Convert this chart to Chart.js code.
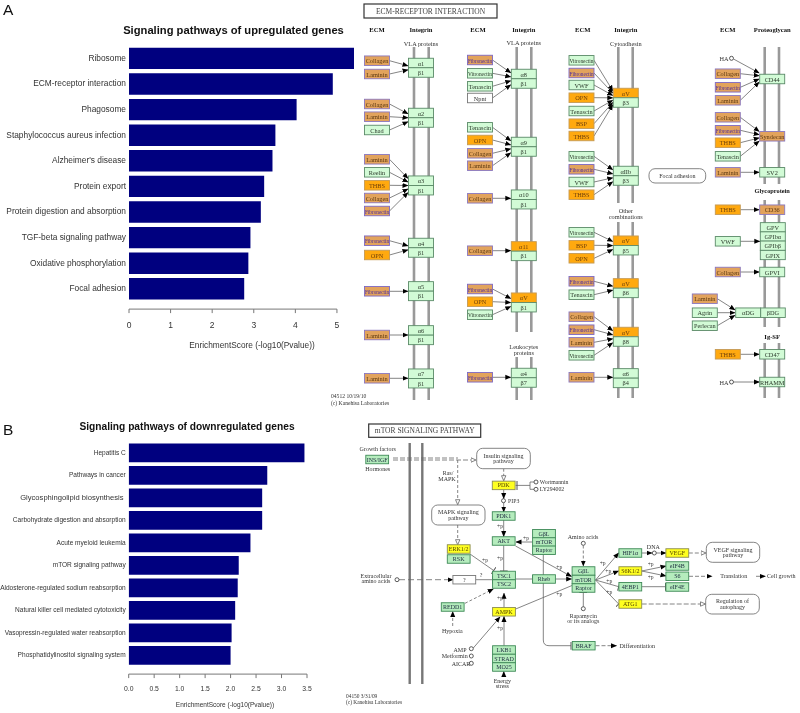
<!DOCTYPE html>
<html>
<head>
<meta charset="utf-8">
<title>Signaling pathways</title>
<script src="https://cdn.jsdelivr.net/npm/chart.js@4"></script>
<style>
  html, body { margin: 0; padding: 0; background: #fff; }
  #page { position: relative; width: 800px; height: 713px; overflow: hidden; filter: blur(0.35px); }
  #page canvas, #page svg { position: absolute; }
  #upChart { left: 0; top: 0; }
  #downChart { left: 0; top: 410px; }
  #pathways { left: 0; top: 0; }
  .letter { position: absolute; left: 3px; font: 15.5px "Liberation Sans", sans-serif; color: #111; }
</style>
</head>
<body>
<div id="page">
  <canvas id="upChart" width="360" height="360"></canvas>
  <canvas id="downChart" width="340" height="303"></canvas>
  <svg id="pathways" width="800" height="713" viewBox="0 0 800 713"></svg>
  <div class="letter" style="top:1px">A</div>
  <div class="letter" style="top:421px">B</div>
</div>

<script>
// chart data
const upLabels = ["Ribosome", "ECM-receptor interaction", "Phagosome", "Staphylococcus aureus infection",
  "Alzheimer's disease", "Protein export", "Protein digestion and absorption", "TGF-beta signaling pathway",
  "Oxidative phosphorylation", "Focal adhesion"]
const upValues = [5.41, 4.90, 4.03, 3.52, 3.45, 3.25, 3.17, 2.92, 2.87, 2.77]

const downLabels = ["Hepatitis C", "Pathways in cancer", "Glycosphingolipid biosynthesis ", "Carbohydrate digestion and absorption",
  "Acute myeloid leukemia", "mTOR signaling pathway", "Aldosterone-regulated sodium reabsorption",
  "Natural killer cell mediated cytotoxicity", "Vasopressin-regulated water reabsorption", "Phosphatidylinositol signaling system"]
const downValues = [3.45, 2.72, 2.62, 2.62, 2.39, 2.16, 2.14, 2.09, 2.02, 2.00]

const axisTitle = "EnrichmentScore (-log10(Pvalue))"

// R style axis: line only between the first and last tick, set below the bars.
// the titles sit off centre in the original so they are placed here too
const rAxis = {
  id: "rAxis",
  afterDraw(chart, args, opts) {
    const x = chart.scales.x, ctx = chart.ctx
    const y = chart.chartArea.bottom + opts.offset
    const px = x.ticks.map(t => x.getPixelForValue(t.value))
    ctx.save()
    ctx.strokeStyle = "#777"
    ctx.lineWidth = 1
    ctx.beginPath()
    ctx.moveTo(px[0], y)
    ctx.lineTo(px[px.length - 1], y)
    px.forEach(p => { ctx.moveTo(p, y); ctx.lineTo(p, y + opts.tickLen) })
    ctx.stroke()
    ctx.textAlign = "center"
    ctx.textBaseline = "middle"
    ctx.fillStyle = "#333"
    ctx.font = opts.font
    ctx.fillText(axisTitle, opts.titleX, opts.titleY)
    ctx.fillStyle = "#111"
    ctx.font = opts.headFont
    ctx.fillText(opts.head, opts.headX, opts.headY)
    ctx.restore()
  }
}

function renderBarChart(id, labels, values, o) {
  new Chart(document.getElementById(id).getContext("2d"), {
    type: "bar",
    plugins: [rAxis],
    data: {
      labels: labels,
      datasets: [{ data: values, backgroundColor: "#00007f", categoryPercentage: 1, barPercentage: 0.835 }]
    },
    options: {
      indexAxis: "y",
      responsive: false,
      animation: false,
      layout: { padding: { top: o.top, right: o.padRight } },
      plugins: {
        legend: { display: false },
        rAxis: o.axis
      },
      scales: {
        x: {
          min: 0, max: o.max,
          grid: { display: false },
          border: { display: false },
          afterFit(s) { s.height = o.axisHeight },
          ticks: {
            stepSize: o.step, includeBounds: false, maxRotation: 0, autoSkip: false,
            padding: o.tickPad, color: "#333",
            font: { family: "Liberation Sans", size: o.tickSize },
            callback: v => v.toFixed(o.decimals)
          }
        },
        y: {
          grid: { display: false, drawTicks: false },
          border: { display: false },
          afterFit(s) { s.width = o.left },
          ticks: {
            padding: 3, color: "#333", autoSkip: false,
            font: ctx => ({ family: "Liberation Sans", size: o.labelSize(ctx.index) })
          }
        }
      }
    }
  })
}

renderBarChart("upChart", upLabels, upValues, {
  top: 45.6, padRight: 6, left: 129, axisHeight: 58.4, max: 5.41, step: 1, decimals: 0,
  tickPad: 11, tickSize: 8.5, labelSize: () => 8.35,
  axis: { offset: 7.5, tickLen: 4, font: "8.3px 'Liberation Sans'", titleX: 252, titleY: 345.5,
    head: "Signaling pathways of upregulated genes", headFont: "bold 11.2px 'Liberation Sans'", headX: 233.5, headY: 31 }
})

renderBarChart("downChart", downLabels, downValues, {
  top: 31.6, padRight: 33, left: 128.7, axisHeight: 46.4, max: 3.5, step: 0.5, decimals: 1,
  tickPad: 10, tickSize: 6.8, labelSize: i => (i === 2 ? 7.6 : 6.55),
  axis: { offset: 7.5, tickLen: 4, font: "6.5px 'Liberation Sans'", titleX: 225, titleY: 295,
    head: "Signaling pathways of downregulated genes", headFont: "bold 10.2px 'Liberation Sans'", headX: 187, headY: 17.3 }
})

// ---- the two KEGG maps are illustrations, plain svg ----
const svg = document.getElementById("pathways")
const SERIF = "'Liberation Serif', serif"

function el(tag, attrs, text) {
  const n = document.createElementNS("http://www.w3.org/2000/svg", tag)
  for (const k in attrs) n.setAttribute(k, attrs[k])
  if (text !== undefined) n.textContent = text
  svg.appendChild(n)
  return n
}

const defs = el("defs", {})
function marker(id, w, h, refX, build) {
  const m = document.createElementNS(svg.namespaceURI, "marker")
  m.setAttribute("id", id); m.setAttribute("markerUnits", "userSpaceOnUse")
  m.setAttribute("markerWidth", w); m.setAttribute("markerHeight", h)
  m.setAttribute("refX", refX); m.setAttribute("refY", h / 2); m.setAttribute("orient", "auto")
  m.innerHTML = build
  defs.appendChild(m)
}
marker("solid", 6, 6, 5.5, '<path d="M0 0.5L6 3L0 5.5Z" fill="#000"/>')
marker("open", 6, 6, 5.5, '<path d="M0.5 0.8L5.5 3L0.5 5.2Z" fill="#fff" stroke="#666" stroke-width="0.8"/>')
marker("bar", 2, 8, 1, '<path d="M1 0V8" stroke="#555" stroke-width="1"/>')

function label(x, y, s, size, opt) {
  opt = opt || {}
  const a = { x: x, y: y, "font-family": SERIF, "font-size": size, fill: opt.fill || "#333",
    "text-anchor": opt.anchor || "middle", "dominant-baseline": "central" }
  if (opt.bold) a["font-weight"] = "bold"
  if (opt.fit) { a.textLength = opt.fit; a.lengthAdjust = "spacingAndGlyphs" }
  el("text", a, s)
}

function link(x1, y1, x2, y2, end, dash) {
  const a = { x1: x1, y1: y1, x2: x2, y2: y2, stroke: "#666", "stroke-width": 0.8 }
  if (end) a["marker-end"] = "url(#" + end + ")"
  if (dash) a["stroke-dasharray"] = dash
  el("line", a)
}

const COLORS = {
  green: ["#d2fbd6", "#5b8a68", "#2c3a2c"],
  deep: ["#b5ecbd", "#3f8a58", "#234"],
  yellow: ["#ffff20", "#8c8c50", "#554400"],
  orange: ["#ffa90f", "#c59a55", "#70400a"],
  dull: ["#e2a35c", "#8a78c0", "#5c3810"],
  fibro: ["#e2a35c", "#7d68c4", "#4a2aa0"],
  white: ["#fff", "#777", "#333"]
}

function box(cx, cy, w, h, s, kind, size) {
  const c = COLORS[kind]
  el("rect", { x: cx - w / 2, y: cy - h / 2, width: w, height: h, fill: c[0], stroke: c[1], "stroke-width": 0.9 })
  if (s) label(cx, cy, s, size || 6.3, { fill: c[2], fit: s.length > 8 ? w - 1 : 0 })
}

function pill(x1, y1, x2, y2, lines) {
  el("rect", { x: x1, y: y1, width: x2 - x1, height: y2 - y1, rx: 6, fill: "#fff", stroke: "#666", "stroke-width": 0.8 })
  const mid = (y1 + y2) / 2
  lines.forEach((s, i) => label((x1 + x2) / 2, mid + (i - (lines.length - 1) / 2) * 5.6, s, 6))
}

function node(x, y) { el("circle", { cx: x, cy: y, r: 2, fill: "#fff", stroke: "#333", "stroke-width": 0.8 }) }

function titleBox(x1, y1, x2, y2, s) {
  el("rect", { x: x1, y: y1, width: x2 - x1, height: y2 - y1, fill: "#fff", stroke: "#333", "stroke-width": 1.2 })
  label((x1 + x2) / 2, (y1 + y2) / 2, s, 7.5, { fill: "#444" })
}

function membrane(xs, spans, color, width) {
  xs.forEach(x => spans.forEach(s => el("line", { x1: x, y1: s[0], x2: x, y2: s[1], stroke: color, "stroke-width": width })))
}

// ---- ECM-receptor interaction ----
function ligandKind(name) {
  if (name == "Fibronectin") return "fibro"
  if (name == "Collagen" || name == "Laminin") return "dull"
  if (name == "OPN" || name == "BSP" || name == "THBS") return "orange"
  if (name == "Npnt") return "white"
  return "green"
}

// ligand column, receptor column, receptor top, alpha, beta, alpha is orange, ligands [name, centre y]
const ecmGroups = [
  [377, 421, 58.3, "α1", "β1", false, [["Collagen", 60.7], ["Laminin", 74]]],
  [377, 421, 108.3, "α2", "β1", false, [["Collagen", 104], ["Laminin", 116.7], ["Chad", 130]]],
  [377, 421, 176, "α3", "β1", false, [["Laminin", 159.3], ["Reelin", 172.3], ["THBS", 185.3], ["Collagen", 198], ["Fibronectin", 211]]],
  [377, 421, 238.3, "α4", "β1", false, [["Fibronectin", 240.7], ["OPN", 255]]],
  [377, 421, 281.7, "α5", "β1", false, [["Fibronectin", 291.3]]],
  [377, 421, 325.7, "α6", "β1", false, [["Laminin", 335]]],
  [377, 421, 369, "α7", "β1", false, [["Laminin", 378.3]]],
  [480, 523.8, 69.3, "α8", "β1", false, [["Fibronectin", 60], ["Vitronectin", 73.3], ["Tenascin", 86.3], ["Npnt", 98]]],
  [480, 523.8, 137.3, "α9", "β1", false, [["Tenascin", 127.3], ["OPN", 140], ["Collagen", 153.3], ["Laminin", 165.7]]],
  [480, 523.8, 190, "α10", "β1", false, [["Collagen", 198.3]]],
  [480, 523.8, 241.7, "α11", "β1", true, [["Collagen", 250.7]]],
  [480, 523.8, 293, "αV", "β1", true, [["Fibronectin", 289], ["OPN", 301.7], ["Vitronectin", 314.7]]],
  [480, 523.8, 368.3, "α4", "β7", false, [["Fibronectin", 377.3]]],
  [581.5, 625.8, 88.3, "αV", "β3", true, [["Vitronectin", 60.3], ["Fibronectin", 73], ["VWF", 85], ["OPN", 97.7], ["Tenascin", 111], ["BSP", 123.7], ["THBS", 136]]],
  [581.5, 625.8, 166.3, "αIIb", "β3", false, [["Vitronectin", 156.3], ["Fibronectin", 169.3], ["VWF", 182], ["THBS", 194.7]]],
  [581.5, 625.8, 236, "αV", "β5", true, [["Vitronectin", 232.3], ["BSP", 245.3], ["OPN", 258.3]]],
  [581.5, 625.8, 278.7, "αV", "β6", true, [["Fibronectin", 281.3], ["Tenascin", 294.7]]],
  [581.5, 625.8, 327.3, "αV", "β8", true, [["Collagen", 316.7], ["Fibronectin", 329.7], ["Laminin", 342.3], ["Vitronectin", 355.3]]],
  [581.5, 625.8, 368.7, "α6", "β4", false, [["Laminin", 377.3]]]
]

titleBox(364, 4, 497, 18, "ECM-RECEPTOR  INTERACTION")
membrane([414, 428.7], [[47, 400]], "#999", 2.6)
membrane([516.7, 531.3], [[47, 332], [357, 400]], "#999", 2.6)
membrane([618.3, 632.7], [[47, 203], [222, 398]], "#999", 2.6)
membrane([764.7, 779], [[47, 184], [200, 327], [343, 398]], "#999", 2.6)

;[[377, "ECM"], [421, "Integrin"], [478, "ECM"], [523.8, "Integrin"], [582.7, "ECM"], [625.8, "Integrin"], [727.7, "ECM"], [772.3, "Proteoglycan"]]
  .forEach(h => label(h[0], 29, h[1], 6.6, { bold: true, fill: "#111" }))
label(421, 43, "VLA proteins", 6.3)
label(523.8, 42, "VLA proteins", 6.3)
label(625.8, 43, "Cytoadhesin", 6.3)
label(523.8, 346, "Leukocytes", 6.3)
label(523.8, 352, "proteins", 6.3)
label(625.8, 210.5, "Other", 6.3)
label(625.8, 216.5, "combinations", 6.3)

ecmGroups.forEach(g => {
  const left = g[1] - 12.5, mid = g[2] + 9.5, n = g[6].length
  g[6].forEach((l, i) => {
    const ty = n == 1 ? l[1] : mid + (i - (n - 1) / 2) * Math.min(4, 14 / (n - 1))
    link(g[0] + 12.5, l[1], left - 0.5, ty, "solid")
    box(g[0], l[1], 25, 9.5, l[0], ligandKind(l[0]))
  })
  box(g[1], g[2] + 4.7, 25, 9.5, g[3], g[5] ? "orange" : "green")
  box(g[1], g[2] + 14.2, 25, 9.5, g[4], "green")
})

pill(649, 168.7, 705.7, 183, ["Focal adhesion"])

// proteoglycans, glycoproteins, Ig-SF
const RIGHT = 772.2
const ecmRight = [
  ["CD44", 79, "green", [["Collagen", 73.7], ["Fibronectin", 87.3], ["Laminin", 100.3]]],
  ["Syndecan", 136.3, "dull", [["Collagen", 117.3], ["Fibronectin", 130.3], ["THBS", 142.7], ["Tenascin", 156.3]]],
  ["SV2", 172.3, "green", [["Laminin", 172.3]]],
  ["CD36", 209.7, "dull", [["THBS", 209.7]]],
  ["GPVI", 272, "green", [["Collagen", 272]]],
  ["CD47", 354.3, "green", [["THBS", 354.3]]]
]
ecmRight.forEach(r => {
  r[3].forEach((l, i) => {
    const n = r[3].length
    const ty = n == 1 ? r[1] : r[1] + (i - (n - 1) / 2) * 3.2
    link(740.3, l[1], RIGHT - 13, ty, "solid")
    box(727.8, l[1], 25, 9.5, l[0], ligandKind(l[0]))
  })
  box(RIGHT, r[1], 25, 9.5, r[0], r[2])
})
label(728.5, 58.3, "HA", 6.3, { anchor: "end" })
node(731.5, 58.3)
link(733.5, 59, RIGHT - 13, 73, "solid")
label(RIGHT, 190.3, "Glycoprotein", 6.3, { bold: true, fill: "#111" })
;[["GPV", 227.3], ["GPIbα", 236.5], ["GPIbβ", 245.7], ["GPIX", 255]].forEach(g => box(772.8, g[1], 25, 9.3, g[0], "green"))
link(740.3, 241.3, 759.8, 241.3, "solid")
box(727.8, 241.3, 25, 9.5, "VWF", "green")

;[["Laminin", 298.7], ["Agrin", 312.7], ["Perlecan", 325.7]].forEach(l => {
  link(717.3, l[1], 735, 312.7 + (l[1] - 312.7) * 0.2, "solid")
  box(704.8, l[1], 25, 9.5, l[0], ligandKind(l[0]))
})
box(748.2, 312.7, 25, 9.5, "αDG", "green")
box(773, 312.7, 24.6, 9.5, "βDG", "green")
label(RIGHT, 336, "Ig-SF", 6.6, { bold: true, fill: "#111" })
label(728.5, 382, "HA", 6.3, { anchor: "end" })
node(731.5, 382)
link(733.5, 382, 759.5, 382, "solid")
box(RIGHT, 382, 25, 9.5, "RHAMM", "green")
label(331, 396, "04512 10/19/10", 5.6, { anchor: "start" })
label(331, 403, "(c) Kanehisa Laboratories", 5.6, { anchor: "start" })

// ---- mTOR signaling pathway ----
titleBox(368.7, 424, 480.7, 437.3, "mTOR  SIGNALING  PATHWAY")
membrane([409.7, 422.3], [[443, 684]], "#777", 2.4)

// double dashed growth factor input
link(393, 458, 458, 458, null, "5 2")
link(393, 460, 476, 460, "open", "5 2")
link(457.7, 460, 457.7, 504.7, "open", "3 2")
link(457.7, 525, 457.7, 544.7, "open", "3 2")
link(503.7, 468.7, 503.7, 480.7, "open", "3 2")
link(515.5, 485.4, 530, 485.4)
link(530, 482, 530, 489.3)
link(530, 482, 534, 482)
link(530, 489.3, 534, 489.3)
el("line", { x1: 517, y1: 481, x2: 517, y2: 490, stroke: "#555", "stroke-width": 1 })
link(503.7, 489.7, 503.7, 498.6, "solid")
link(503.7, 502.8, 503.7, 512, "solid")
link(503.7, 520, 503.7, 536.6, "solid")
link(503.7, 545.5, 503.7, 571, "bar")
link(515.5, 546, 571.5, 576.5, "solid")
link(532.6, 542, 516, 542, "solid")
link(470, 554, 493.7, 570.5, "bar")
link(399, 579.7, 453, 579.7, "solid", "6 3")
link(475.6, 579.7, 492.7, 579.7, "bar")
link(515.7, 579, 532.7, 579, "bar")
link(555.3, 579, 571.7, 579, "solid")
link(465, 603.3, 493.3, 589, "solid", "3 2")
link(504, 607.3, 504, 593.2, "solid")
link(515.7, 609, 572, 585.5)
link(452.7, 626, 452.7, 611.5, "solid", "3 2")
link(473.3, 648, 500, 617, "solid")
link(504, 645.7, 504, 616.4, "solid")
link(503.8, 677, 503.8, 671.5, "solid", "2 2")
link(543.3, 554.5, 543.3, 640)
el("path", { d: "M543.3 640Q543.3 645.7 549 645.7L571 645.7", fill: "none", stroke: "#666", "stroke-width": 0.8, "marker-end": "url(#bar)" })

link(583.3, 545.5, 583.3, 566, "solid", "3 2")
link(583.3, 606.7, 583.3, 592.5, "bar")
;[[618.7, 553, "solid"], [618.7, 571, "solid"], [618.7, 586.7, "bar"], [618.7, 604, "bar"]]
  .forEach(t => link(595.5, 580, t[0], t[1], t[2]))
link(641.7, 553, 652, 553, "solid")
link(656.3, 553, 666, 553, "solid")
link(688.8, 553, 706, 553, "open", "4 2")
link(641.7, 571, 666, 566, "solid")
link(641.7, 571, 666, 576, "solid")
link(689, 576.3, 712, 576.3, "solid", "4 2")
link(641.7, 586.7, 665.5, 586.7, "bar")
link(641.7, 604, 705.5, 604, "open", "5 2")
link(595.5, 645.7, 616.5, 645.7, "solid", "4 2")
link(756, 576.3, 765.3, 576.3, "solid")

const mtorBoxes = [
  ["INS/IGF", 377.2, 459.5, "deep"], ["PDK", 503.7, 485.4, "yellow"], ["PDK1", 503.7, 516, "deep"],
  ["AKT", 503.7, 541, "deep"], ["ERK1/2", 458.7, 549, "yellow"], ["RSK", 458.7, 559, "deep"],
  ["?", 464.3, 579.7, "white"], ["TSC1", 504, 575.5, "deep"], ["TSC2", 504, 584, "deep"],
  ["Rheb", 544, 579, "deep"], ["GβL", 544, 533.7, "deep"], ["mTOR", 544, 542, "deep"],
  ["Raptor", 544, 550.3, "deep"], ["REDD1", 452.7, 607, "deep"], ["AMPK", 504, 611.8, "yellow"],
  ["LKB1", 504, 650, "deep"], ["STRAD", 504, 658.5, "deep"], ["MO25", 504, 667, "deep"],
  ["GβL", 583.5, 571, "deep"], ["mTOR", 583.5, 579.5, "deep"], ["Raptor", 583.5, 588, "deep"],
  ["HIF1α", 630.3, 553, "deep"], ["S6K1/2", 630.3, 571, "yellow"], ["4EBP1", 630.3, 586.7, "deep"],
  ["ATG1", 630.3, 604, "yellow"], ["VEGF", 677.3, 553, "yellow"], ["eIF4B", 677.3, 566, "deep"],
  ["S6", 677.3, 576.3, "deep"], ["eIF4E", 677.3, 587, "deep"], ["BRAF", 583.7, 645.7, "deep"]
]
mtorBoxes.forEach(b => box(b[1], b[2], 22.8, 8.5, b[0], b[3], 6))

pill(476.7, 448.3, 530.3, 468.7, ["Insulin signaling", "pathway"])
pill(431.7, 505, 485, 525, ["MAPK signaling", "pathway"])
pill(706.3, 542.3, 759.7, 562.3, ["VEGF signaling", "pathway"])
pill(705.7, 594.3, 759.3, 614, ["Regulation of", "autophagy"])

;[[536, 482], [536, 489.3], [503.5, 500.7], [397, 579.7], [471.3, 648.7], [471.3, 656], [471.3, 663.3],
  [583.3, 543.3], [583.3, 608.7], [654.3, 553]].forEach(p => node(p[0], p[1]))

const mtorTexts = [
  ["Growth factors", 377.7, 449.3], ["Hormones", 377.7, 469], ["Ras/", 448, 473], ["MAPK", 447, 479],
  ["Extracellular", 376, 575.7], ["amino acids", 376, 581], ["?", 481, 575], ["Hypoxia", 452.3, 631.3],
  ["AMP", 460, 649.7], ["Metformin", 454.7, 656.3], ["AICAR", 461, 663.7], ["Energy", 502.3, 680.7],
  ["stress", 502.3, 686.3], ["Amino acids", 583, 536.7], ["Rapamycin", 583.3, 616], ["or its analogs", 583.3, 621.3],
  ["DNA", 653.3, 546.7], ["Translation", 733.7, 576.3], ["Cell growth", 781.3, 576.3], ["Differentiation", 637.3, 645.7]
]
mtorTexts.forEach(t => label(t[1], t[2], t[0], 6))
label(539.7, 482, "Wortmannin", 5.8, { anchor: "start" })
label(539.7, 489.3, "LY294002", 5.8, { anchor: "start" })
label(508, 500.5, "PIP3", 5.8, { anchor: "start" })

;[[500, 526], [526, 537.7], [500, 557.7], [485, 560], [559.3, 566.7], [559.3, 593.7], [500, 598.3], [500, 628.3],
  [602.7, 563.3], [608.3, 571], [609.3, 581], [609.3, 592], [650.7, 564.3], [650.7, 577.3]]
  .forEach(p => label(p[0], p[1], "+p", 5.6))

label(346, 696, "04150 3/31/09", 5.4, { anchor: "start" })
label(346, 701.7, "(c) Kanehisa Laboratories", 5.4, { anchor: "start" })
</script>
</body>
</html>
